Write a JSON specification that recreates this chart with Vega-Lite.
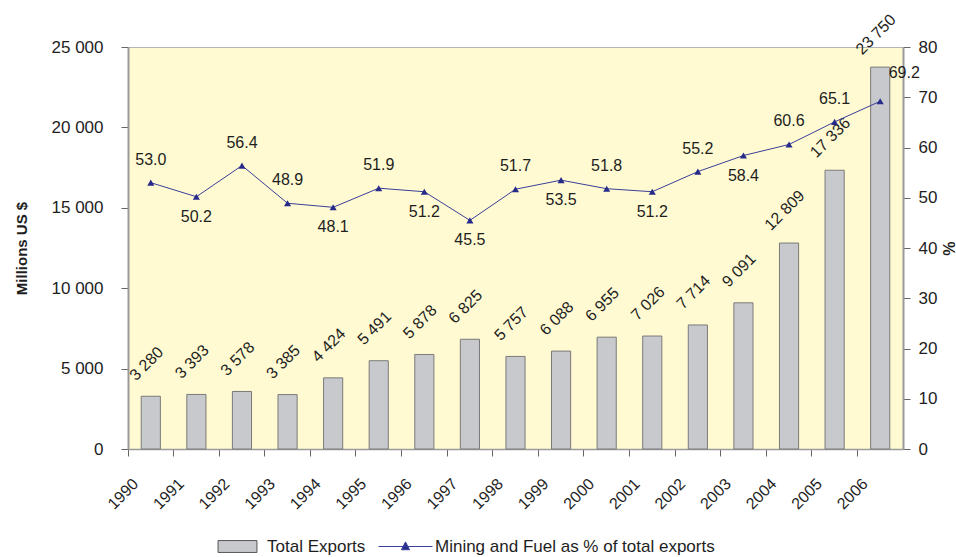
{
  "$schema": "https://vega.github.io/schema/vega-lite/v6.json",
  "width": 775,
  "height": 402,
  "autosize": {"type": "none"},
  "padding": {"left": 128, "top": 47, "right": 53, "bottom": 108},
  "background": "white",
  "config": {
    "font": "Liberation Sans",
    "locale": {"number": {"decimal": ".", "thousands": " ", "grouping": [3], "currency": ["", ""]}},
    "view": {"fill": "#fffad2", "stroke": "#b4b4b4", "strokeWidth": 1},
    "axis": {"grid": false, "labelColor": "#1e1e1e", "titleColor": "#1e1e1e", "tickColor": "#666666", "domainColor": "#9a9a9a", "labelFont": "Liberation Sans", "titleFont": "Liberation Sans"},
    "legend": {"labelFont": "Liberation Sans", "labelFontSize": 17, "labelColor": "#1e1e1e", "labelLimit": 500, "padding": 0, "title": null}
  },
  "data": {
    "values": [
      {"year": "1990", "exports": 3280, "share": 53.0},
      {"year": "1991", "exports": 3393, "share": 50.2},
      {"year": "1992", "exports": 3578, "share": 56.4},
      {"year": "1993", "exports": 3385, "share": 48.9},
      {"year": "1994", "exports": 4424, "share": 48.1},
      {"year": "1995", "exports": 5491, "share": 51.9},
      {"year": "1996", "exports": 5878, "share": 51.2},
      {"year": "1997", "exports": 6825, "share": 45.5},
      {"year": "1998", "exports": 5757, "share": 51.7},
      {"year": "1999", "exports": 6088, "share": 53.5},
      {"year": "2000", "exports": 6955, "share": 51.8},
      {"year": "2001", "exports": 7026, "share": 51.2},
      {"year": "2002", "exports": 7714, "share": 55.2},
      {"year": "2003", "exports": 9091, "share": 58.4},
      {"year": "2004", "exports": 12809, "share": 60.6},
      {"year": "2005", "exports": 17336, "share": 65.1},
      {"year": "2006", "exports": 23750, "share": 69.2}
    ]
  },
  "encoding": {
    "x": {
      "field": "year",
      "type": "ordinal",
      "scale": {"paddingInner": 0, "paddingOuter": 0},
      "axis": {
        "title": null,
        "bandPosition": 0,
        "labelAngle": -45,
        "labelAlign": "right",
        "labelBaseline": "middle",
        "labelOffset": -15,
        "labelPadding": 25,
        "tickSize": 7,
        "labelFontSize": 16,
        "domainWidth": 1.5
      }
    }
  },
  "layer": [
    {
      "encoding": {
        "y": {
          "field": "exports",
          "type": "quantitative",
          "scale": {"domain": [0, 25000], "nice": false},
          "axis": {
            "orient": "left",
            "title": "Millions US $",
            "titleFontSize": 15,
            "titleFontWeight": "bold",
            "titlePadding": 22,
            "values": [0, 5000, 10000, 15000, 20000, 25000],
            "format": ",.0f",
            "labelFontSize": 17,
            "tickSize": 7,
            "labelPadding": 18,
            "domainWidth": 2
          }
        }
      },
      "layer": [
        {
          "mark": {"type": "bar", "width": {"band": 0.42}, "stroke": "#7a7a7a", "strokeWidth": 1},
          "encoding": {
            "fill": {
              "datum": "Total Exports",
              "scale": {"domain": ["Total Exports"], "range": ["#c8c9cd"]},
              "legend": {
                "orient": "none",
                "legendX": 82,
                "legendY": 472,
                "direction": "horizontal",
                "symbolSize": 2916,
                "symbolType": "M-0.72,-0.22H0.72V0.22H-0.72Z",
                "symbolStrokeColor": "#555555",
                "symbolStrokeWidth": 1,
                "symbolOpacity": 1,
                "labelOffset": 2
              }
            }
          }
        },
        {
          "mark": {"type": "text", "angle": -45, "dx": 20, "dy": -26, "fontSize": 16, "align": "center", "baseline": "middle", "color": "#1e1e1e"},
          "encoding": {"text": {"field": "exports", "type": "quantitative", "format": ","}}
        }
      ]
    },
    {
      "encoding": {
        "y": {
          "field": "share",
          "type": "quantitative",
          "scale": {"domain": [0, 80], "nice": false},
          "axis": {
            "orient": "right",
            "title": "%",
            "titleFontSize": 16,
            "titleFontWeight": "bold",
            "titlePadding": 3,
            "values": [0, 10, 20, 30, 40, 50, 60, 70, 80],
            "labelFontSize": 17,
            "tickSize": 7,
            "labelPadding": 8,
            "domainWidth": 2
          }
        }
      },
      "layer": [
        {
          "mark": {"type": "line", "strokeWidth": 1},
          "encoding": {
            "stroke": {
              "datum": "Mining and Fuel as % of total exports",
              "scale": {"domain": ["Mining and Fuel as % of total exports"], "range": ["#3a3f9a"]},
              "legend": {
                "orient": "none",
                "legendX": 250,
                "legendY": 472,
                "direction": "horizontal",
                "symbolSize": 2916,
                "symbolType": "M-1,0H1M0,-0.17L0.15,0.12L-0.15,0.12Z",
                "symbolFillColor": "#262b8a",
                "symbolStrokeWidth": 1,
                "symbolOpacity": 1,
                "labelOffset": 2
              }
            }
          }
        },
        {
          "mark": {"type": "point", "shape": "triangle-up", "filled": true, "size": 50, "color": "#262b8a", "opacity": 1}
        },
        {
          "transform": [{"filter": {"field": "year", "oneOf": ["1990", "1992", "1993", "1995", "1998", "2000", "2002", "2004", "2005"]}}],
          "mark": {"type": "text", "dy": -23, "fontSize": 16, "color": "#1e1e1e"},
          "encoding": {"text": {"field": "share", "type": "quantitative", "format": ".1f"}}
        },
        {
          "transform": [{"filter": {"field": "year", "oneOf": ["1991", "1994", "1996", "1997", "1999", "2001", "2003"]}}],
          "mark": {"type": "text", "dy": 20, "fontSize": 16, "color": "#1e1e1e"},
          "encoding": {"text": {"field": "share", "type": "quantitative", "format": ".1f"}}
        },
        {
          "transform": [{"filter": {"field": "year", "equal": "2006"}}],
          "mark": {"type": "text", "dx": 24, "dy": -28, "fontSize": 16, "color": "#1e1e1e"},
          "encoding": {"text": {"field": "share", "type": "quantitative", "format": ".1f"}}
        }
      ]
    }
  ],
  "resolve": {"scale": {"y": "independent"}}
}
